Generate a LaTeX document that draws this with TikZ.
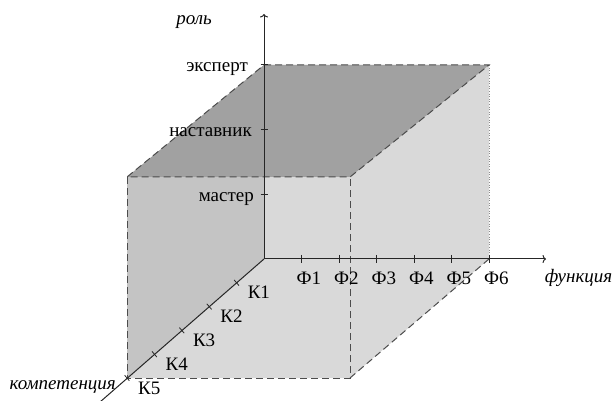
\documentclass[tikz,border=0pt]{standalone}
\usepackage{fontspec}
\setmainfont{Liberation Serif}
\usetikzlibrary{calc,arrows.meta}
\begin{document}
\begin{tikzpicture}[x=1pt,y=-1pt,
  axis/.style={draw=black!85, line width=1pt},
  edge/.style={draw=black!70, line width=1pt, dash pattern=on 7pt off 4pt},
  thinedge/.style={draw=black!45, line width=0.6pt, dotted},
  tick/.style={draw=black!85, line width=0.8pt},
  lbl/.style={inner sep=0pt, font=\fontsize{19}{22}\selectfont},
  axlbl/.style={inner sep=0pt, font=\fontsize{19}{22}\selectfont\itshape},
  dark/.style={fill=black!37},
  mid/.style={fill=black!23},
  light/.style={fill=black!15},
  >={To[length=3.5pt,width=8pt]}]
\useasboundingbox (0,0) rectangle (614,401);

% cube corners
\coordinate (O)  at (264,259);
\coordinate (BL) at (264,65);
\coordinate (BR) at (489,65);
\coordinate (FL) at (127,177);
\coordinate (FR) at (350,177);
\coordinate (DL) at (127,378);
\coordinate (DR) at (350,378);
\coordinate (RB) at (489,259);
\coordinate (FLaxis) at (264,177);

% faces
\fill[light] (FL) -- (BL) -- (BR) -- (RB) -- (DR) -- (DL) -- cycle;
\fill[mid] (FL) -- (FLaxis) -- (O) -- (DL) -- cycle;
\fill[dark] (BL) -- (BR) -- (FR) -- (FL) -- cycle;

% axis end points
\coordinate (Rtop) at (264,14);
\coordinate (Fend) at (546,259);
\coordinate (Kend) at (100,402);

% dashed and dotted edges
\draw[thinedge] (BR) -- (RB);
\draw[edge] (BL) -- (BR) -- (FR) -- (FL) -- cycle;
\draw[edge] (FL) -- (DL) -- (DR) -- (FR);
\draw[edge] (DR) -- (RB);

% axes
\draw[axis,->] (O) -- (Rtop);
\draw[axis,->] (O) -- (Fend);
\draw[axis] (O) -- (Kend);

% axis names
\node[axlbl, anchor=base east] (roleName) at (212,25) {роль};
\node[axlbl, anchor=base east] (funcName) at (612.5,283) {функция};
\node[axlbl, anchor=base east] (compName) at (116,389) {компетенция};

% role ticks
\foreach \i/\t/\x in {1/мастер/254, 2/наставник/252, 3/эксперт/248} {
  \coordinate (r\i) at ($(O)+(0,-64.7*\i)$);
  \draw[tick] ($(r\i)+(-3.5,0)$) -- ($(r\i)+(3.5,0)$);
  \node[lbl, anchor=base east] (rl\i) at (\x,{259-64.7*\i+7}) {\t};
}

% function ticks
\foreach \i in {1,...,6} {
  \coordinate (f\i) at ($(O)+(37.5*\i,0)$);
  \draw[tick] ($(f\i)+(0,-4)$) -- ($(f\i)+(0,4)$);
  \node[lbl, anchor=base west] (fl\i) at ($(f\i)+(-5,26)$) {Ф\i};
}

% competence ticks
\foreach \i in {1,...,5} {
  \coordinate (k\i) at ($(O)+(-27.4*\i,23.8*\i)$);
  \draw[tick] ($(k\i)+(-2.4,-2.8)$) -- ($(k\i)+(2.4,2.8)$);
  \node[lbl, anchor=base west] (kl\i) at ($(k\i)+(11,16)$) {К\i};
}
\end{tikzpicture}
\end{document}
